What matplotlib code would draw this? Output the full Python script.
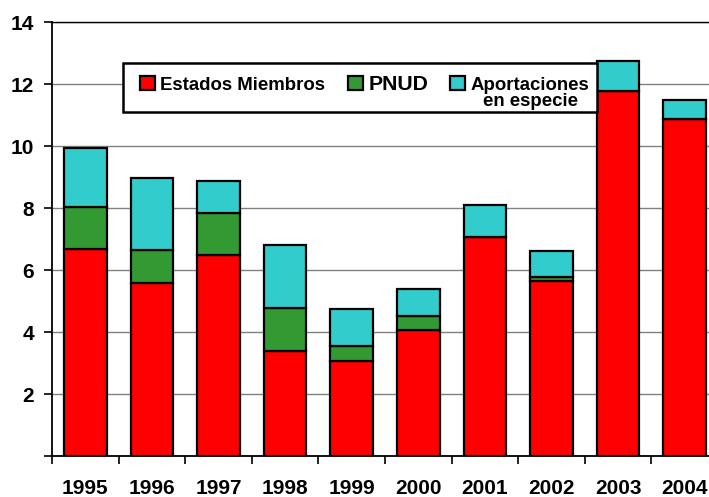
import matplotlib
matplotlib.use("Agg")
import matplotlib.pyplot as plt
from matplotlib.patches import Rectangle
import numpy as np

years = ["1995", "1996", "1997", "1998", "1999", "2000", "2001", "2002", "2003", "2004"]
estados = [6.68, 5.58, 6.48, 3.39, 3.06, 4.08, 7.06, 5.65, 11.78, 10.86]
pnud = [1.35, 1.07, 1.36, 1.38, 0.49, 0.44, 0.0, 0.12, 0.0, 0.0]
especie = [1.91, 2.32, 1.03, 2.04, 1.18, 0.87, 1.04, 0.84, 0.96, 0.64]
labels = ["Estados Miembros", "PNUD", "Aportaciones"]
label_extra = "en especie"
colors = ["#ff0000", "#339933", "#33cccc"]

plt.rcParams['font.family'] = ['Liberation Sans', 'DejaVu Sans']
plt.rcParams['font.weight'] = 'bold'

W, H = 709, 497
fig = plt.figure(figsize=(W / 100, H / 100), dpi=100)
ax = fig.add_axes([52/W, 41/H, 666/W, 434/H])

x = np.arange(len(years))
w = 0.64
b1 = ax.bar(x, estados, w, color=colors[0], edgecolor='black', linewidth=1.6, zorder=3)
bottom2 = np.array(estados)
b2 = ax.bar(x, pnud, w, bottom=bottom2, color=colors[1], edgecolor='black', linewidth=1.6, zorder=3)
bottom3 = bottom2 + np.array(pnud)
b3 = ax.bar(x, especie, w, bottom=bottom3, color=colors[2], edgecolor='black', linewidth=1.6, zorder=3)

ax.set_xlim(-0.5, len(years) - 0.5)
ax.set_ylim(0, 14)
ax.set_yticks(np.arange(0, 15, 2))
ax.set_yticklabels([""] + [str(v) for v in range(2, 15, 2)])
ax.yaxis.grid(True, color='#808080', linewidth=1.0, zorder=0)
ax.set_axisbelow(True)

ax.set_xticks(x)
ax.set_xticklabels(years)
ax.set_xticks(np.arange(-0.5, len(years), 1.0), minor=True)
ax.tick_params(axis='x', which='major', length=0, pad=16.5, labelsize=15)
ax.tick_params(axis='x', which='minor', length=6, width=1.2, direction='out')
ax.tick_params(axis='y', which='major', length=6, width=1.2, direction='out', pad=7, labelsize=15)

for s in ['left', 'bottom', 'top', 'right']:
    ax.spines[s].set_linewidth(1.3)
    ax.spines[s].set_color('black')
ax.spines['top'].set_linewidth(1.0)

for lab in ax.get_xticklabels() + ax.get_yticklabels():
    lab.set_fontweight('bold')

# legend frame
frame = Rectangle((123/W, 1 - 112/H), (597 - 123)/W, (112 - 63)/H, transform=fig.transFigure,
                  facecolor='white', edgecolor='black', linewidth=1.8, zorder=4)
fig.patches.append(frame)

leg = fig.legend(handles=[b1, b2, b3], labels=labels, loc='center left',
                 bbox_to_anchor=(140/W, 1 - 84/H), bbox_transform=fig.transFigure,
                 ncol=3, frameon=False, borderaxespad=0, borderpad=0,
                 handlelength=0.8, handleheight=0.8, handletextpad=0.3,
                 columnspacing=1.2, prop={'size': 13.4, 'weight': 'bold'})
leg.set_zorder(5)
texts = leg.get_texts()
texts[1].set_fontsize(15.3)
for h in leg.legend_handles:
    h.set_linewidth(1.6)

fig.canvas.draw()
r = fig.canvas.get_renderer()
bb = texts[2].get_window_extent(r)
cx = (bb.x0 + bb.x1) / 2 / W
fig.text(cx, 1 - 101/H, label_extra, ha='center', va='center', fontsize=13.4,
         fontweight='bold', zorder=6)

fig.savefig("out.png", dpi=100)
